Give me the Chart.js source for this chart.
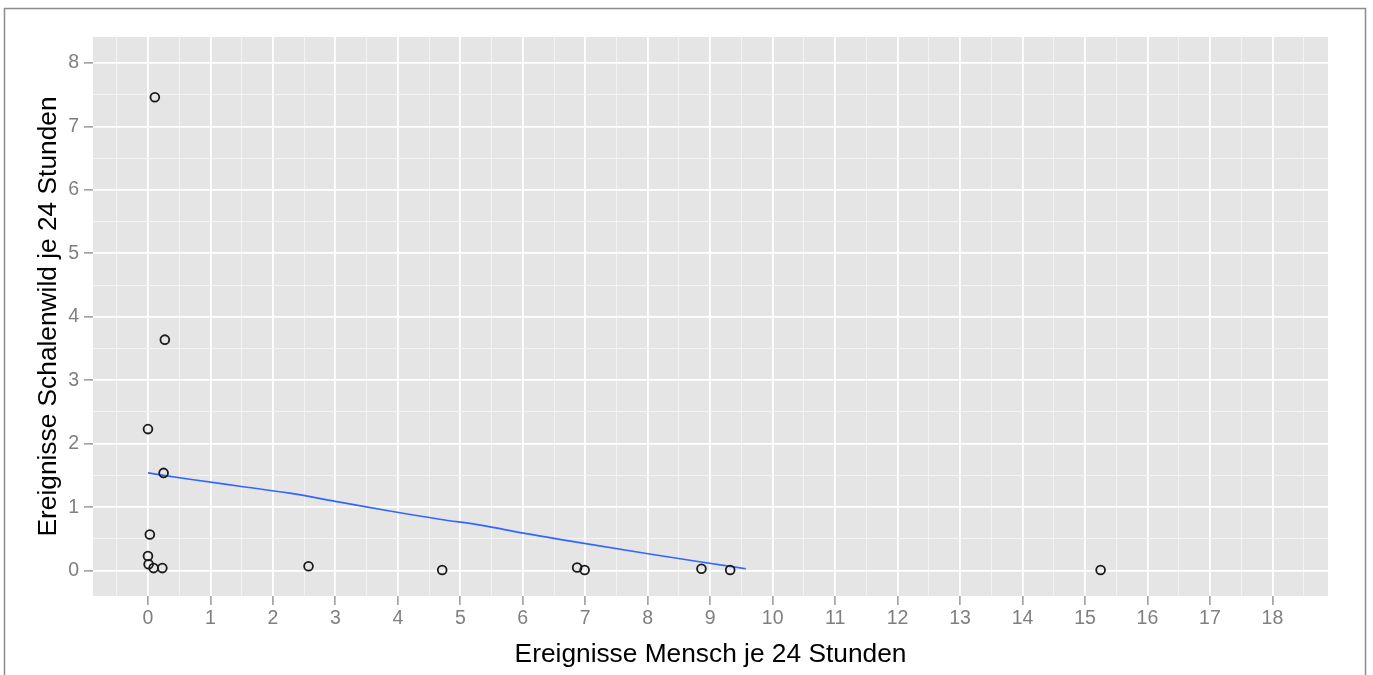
<!DOCTYPE html>
<html>
<head>
<meta charset="utf-8">
<script src="https://cdn.jsdelivr.net/npm/chart.js@4/dist/chart.umd.min.js"></script>
<style>
  html, body { margin: 0; padding: 0; background: #ffffff; }
  #wrap { width: 1373px; height: 675px; position: relative; }
</style>
</head>
<body>
<div id="wrap"><canvas id="c" width="1373" height="675"></canvas></div>
<script>
// ---- data ----
const pointsX = [0.11, 0.27, 0.00, 0.25, 0.03, 0.00, 0.01, 0.09, 0.23, 2.57, 4.71, 6.87, 6.99, 8.86, 9.32, 15.25];
const pointsY = [7.46, 3.64, 2.23, 1.54, 0.57, 0.23, 0.10, 0.04, 0.04, 0.07, 0.01, 0.05, 0.01, 0.03, 0.01, 0.01];
const smoothX = [0, 0.67, 1.47, 2.27, 3.07, 3.87, 4.67, 5.37, 6.01, 6.91, 7.98, 8.83, 9.57];
const smoothY = [1.54, 1.44, 1.33, 1.22, 1.08, 0.94, 0.81, 0.71, 0.59, 0.44, 0.27, 0.14, 0.03];
const xTicks = [0,1,2,3,4,5,6,7,8,9,10,11,12,13,14,15,16,17,18];
const xTickLabels = ['0','1','2','3','4','5','6','7','8','9','10','11','12','13','14','15','16','17','18'];
const yTicks = [0,1,2,3,4,5,6,7,8];
const yTickLabels = ['0','1','2','3','4','5','6','7','8'];
const xTitle = 'Ereignisse Mensch je 24 Stunden';
const yTitle = 'Ereignisse Schalenwild je 24 Stunden';

// ---- helpers ----
function withMinors(major, min, max) {
  const out = [];
  for (let i = 0; i < major.length; i++) {
    const v = major[i];
    if (i === 0 && v - 0.5 >= min) out.push({value: v - 0.5});
    out.push({value: v});
    if (v + 0.5 <= max) out.push({value: v + 0.5});
  }
  return out;
}
function labelFor(ticks, labels, v) {
  const i = ticks.indexOf(v);
  return i >= 0 ? labels[i] : '';
}
const isMajor = (ticks, v) => ticks.indexOf(v) >= 0;

const X_MIN = -0.88, X_MAX = 18.89, Y_MIN = -0.40, Y_MAX = 8.41;

const bgPlugin = {
  id: 'panelBg',
  beforeDraw(chart) {
    const {ctx, chartArea: a} = chart;
    ctx.save();
    ctx.fillStyle = '#ffffff';
    ctx.fillRect(0, 0, chart.width, chart.height);
    ctx.fillStyle = '#E5E5E5';
    ctx.fillRect(a.left, a.top, a.right - a.left, a.bottom - a.top);
    ctx.strokeStyle = '#8c8c8c';
    ctx.lineWidth = 1.5;
    ctx.beginPath();
    ctx.moveTo(4.5, 680);
    ctx.lineTo(4.5, 8.5);
    ctx.lineTo(1365.5, 8.5);
    ctx.lineTo(1365.5, 680);
    ctx.stroke();
    ctx.restore();
  }
};

const gridCfg = (ticks) => ({
  color: (c) => (c.tick && isMajor(ticks, c.tick.value)) ? '#FFFFFF' : '#F3F3F3',
  lineWidth: (c) => (c.tick && isMajor(ticks, c.tick.value)) ? 1.8 : 1,
  tickColor: (c) => (c.tick && isMajor(ticks, c.tick.value)) ? '#7F7F7F' : 'rgba(0,0,0,0)',
  tickWidth: 1.2,
  tickLength: 9,
  drawTicks: true
});

const FONT = 'Liberation Sans, Arial, sans-serif';

new Chart(document.getElementById('c'), {
  type: 'scatter',
  data: {
    datasets: [
      {
        type: 'line',
        data: smoothX.map((x, i) => ({x, y: smoothY[i]})),
        borderColor: '#3366FF',
        borderWidth: 1.7,
        pointRadius: 0,
        fill: false,
        cubicInterpolationMode: 'monotone',
        order: 2
      },
      {
        type: 'scatter',
        data: pointsX.map((x, i) => ({x, y: pointsY[i]})),
        pointStyle: 'circle',
        pointRadius: 4.4,
        borderColor: '#1a1a1a',
        borderWidth: 1.8,
        backgroundColor: 'rgba(0,0,0,0)',
        order: 1
      }
    ]
  },
  options: {
    responsive: false,
    animation: false,
    devicePixelRatio: 1,
    layout: { padding: { left: 0, right: 45, top: 37, bottom: 0 } },
    plugins: { legend: { display: false }, tooltip: { enabled: false } },
    scales: {
      x: {
        type: 'linear',
        position: 'bottom',
        min: X_MIN, max: X_MAX,
        afterBuildTicks: (s) => { s.ticks = withMinors(xTicks, X_MIN, X_MAX); },
        afterFit: (s) => { s.height = 79; },
        grid: gridCfg(xTicks),
        border: { display: false },
        ticks: {
          autoSkip: false, maxRotation: 0, minRotation: 0,
          color: '#7F7F7F', padding: 2,
          font: { family: FONT, size: 19.5 },
          callback: (v) => labelFor(xTicks, xTickLabels, v)
        },
        title: {
          display: true, text: xTitle, color: '#000000',
          font: { family: FONT, size: 26.3 },
          padding: { top: 0, bottom: 4 }
        }
      },
      y: {
        type: 'linear',
        position: 'left',
        min: Y_MIN, max: Y_MAX,
        afterBuildTicks: (s) => { s.ticks = withMinors(yTicks, Y_MIN, Y_MAX); },
        afterFit: (s) => { s.width = 93; },
        grid: gridCfg(yTicks),
        border: { display: false },
        ticks: {
          autoSkip: false,
          color: '#7F7F7F', padding: 5,
          font: { family: FONT, size: 19.5 },
          callback: (v) => labelFor(yTicks, yTickLabels, v)
        },
        title: {
          display: true, text: yTitle, color: '#000000',
          font: { family: FONT, size: 26.3 },
          padding: { top: 33, bottom: 0 }
        }
      }
    }
  },
  plugins: [bgPlugin]
});
</script>
</body>
</html>
